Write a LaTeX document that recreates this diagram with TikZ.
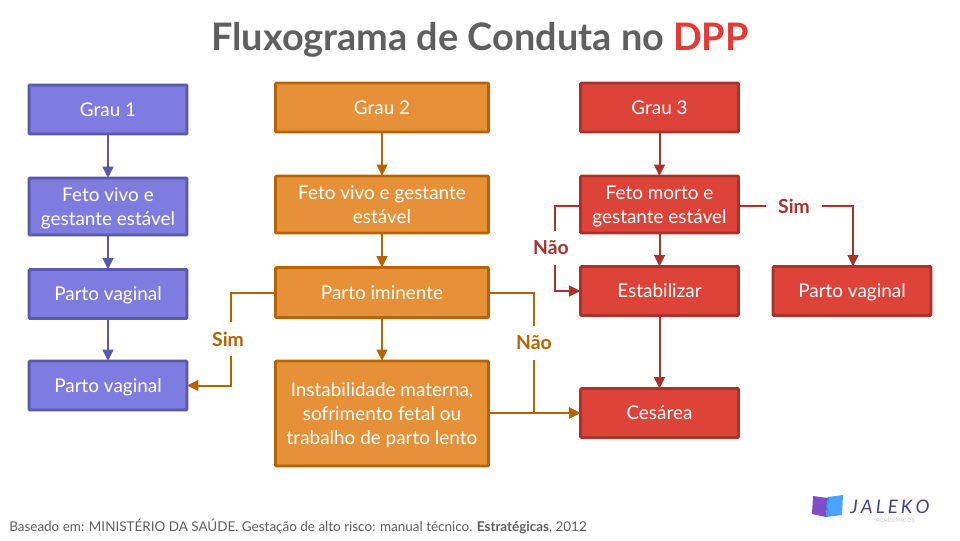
\documentclass[tikz,border=0pt]{standalone}
\usepackage{fontspec}
\setmainfont{Lato}
\usetikzlibrary{arrows.meta}
\definecolor{blueF}{HTML}{7F7CE0}\definecolor{blueD}{HTML}{5A58A8}
\definecolor{orF}{HTML}{E69038}\definecolor{orD}{HTML}{B86202}
\definecolor{reF}{HTML}{DD4338}\definecolor{reD}{HTML}{A8322C}
\definecolor{titleG}{HTML}{5F5F5F}\definecolor{titleR}{HTML}{E53935}
\newcommand{\boxtxt}[1]{\raisebox{-1.6pt}[\height][\depth]{\begin{tabular}{@{}c@{}}#1\end{tabular}}}
\tikzset{
 bx/.style={draw,line width=2.2pt,rounded corners=0.8pt,text=white,font=\fontsize{14.2pt}{18pt}\selectfont,inner sep=0pt,outer sep=0pt,anchor=north west},
 bb/.style={bx,draw=blueD,fill=blueF},
 ob/.style={bx,draw=orD,fill=orF},
 rb/.style={bx,draw=reD,fill=reF},
 ln/.style={line width=1.5pt,-{Triangle[length=8.5pt,width=8pt]}},
 lab/.style={fill=white,font=\fontsize{14.5pt}{16pt}\selectfont\bfseries,inner xsep=5pt,inner ysep=0pt,minimum height=26pt}
}
\begin{document}
\begin{tikzpicture}[x=0.75pt,y=-0.75pt]
\useasboundingbox (0,0) rectangle (960,540);
\node[font=\fontsize{28.4pt}{32pt}\selectfont\bfseries,text=titleG] (title) at (480,39.5) {Fluxograma de Conduta no \textcolor{titleR}{DPP}};
% blue
\node[bb,minimum width=118.5pt,minimum height=36.75pt] (a1) at (29,85) {\boxtxt{Grau 1}};
\node[bb,minimum width=118.5pt,minimum height=42.75pt] (a2) at (29,178) {\boxtxt{Feto vivo e\\gestante estável}};
\node[bb,minimum width=118.5pt,minimum height=36.75pt] (a3) at (29,269.5) {\boxtxt{Parto vaginal}};
\node[bb,minimum width=118.5pt,minimum height=36.75pt] (a4) at (29,361) {\boxtxt{Parto vaginal}};
% orange
\node[ob,minimum width=159.75pt,minimum height=36.75pt] (b1) at (275.5,83) {\boxtxt{Grau 2}};
\node[ob,minimum width=159.75pt,minimum height=42.75pt] (b2) at (275.5,176) {\boxtxt{Feto vivo e gestante\\estável}};
\node[ob,minimum width=159.75pt,minimum height=37.5pt] (b3) at (275.5,267.5) {\boxtxt{Parto iminente}};
\node[ob,minimum width=159.75pt,minimum height=78.75pt] (b4) at (275.5,361) {\boxtxt{Instabilidade materna,\\sofrimento fetal ou\\trabalho de parto lento}};
% red
\node[rb,minimum width=118.5pt,minimum height=36.75pt] (c1) at (580.5,83) {\boxtxt{Grau 3}};
\node[rb,minimum width=118.5pt,minimum height=42.75pt] (c2) at (580.5,176) {\boxtxt{Feto morto e\\gestante estável}};
\node[rb,minimum width=118.5pt,minimum height=36.75pt] (c3) at (580.5,266.5) {\boxtxt{Estabilizar}};
\node[rb,minimum width=118.5pt,minimum height=36.75pt] (c4) at (580.5,388.5) {\boxtxt{Cesárea}};
\node[rb,minimum width=118.5pt,minimum height=36.75pt] (c5) at (773,266.5) {\boxtxt{Parto vaginal}};
% connectors
\begin{scope}[draw=blueD,blueD]
\draw[ln] (a1)--(a2); \draw[ln] (a2)--(a3); \draw[ln] (a3)--(a4);
\end{scope}
\begin{scope}[draw=orD]
\draw[ln] (b1)--(b2); \draw[ln] (b2)--(b3); \draw[ln] (b3)--(b4);
\coordinate (sc) at (231,339);
\coordinate (nc) at (534,343);
\draw[ln,orD] (b3.west) -| (sc) |- (a4.east);
\draw[ln,orD] (b3.east) -| (nc) |- (c4.west);
\draw[ln,orD] (b4.east |- c4.west) -- (c4.west);
\node[lab,text=orD] (ls) at (228,339) {Sim};
\node[lab,text=orD] (ln1) at (534,343) {Não};
\end{scope}
\begin{scope}[draw=reD]
\draw[ln] (c1)--(c2); \draw[ln] (c2)--(c3); \draw[ln] (c3)--(c4);
\coordinate (nr) at (555,248);
\coordinate (sr) at (853,206);
\draw[ln,reD] (c2.west |- sr) -| (nr) |- (c3.west);
\draw[ln,reD] (c2.east |- sr) -| (c5.north -| sr);
\node[lab,text=reD] (ln2) at (551,248) {Não};
\node[lab,text=reD,inner xsep=9pt] (ls2) at (794,206) {Sim};
\end{scope}
% footer
\node[anchor=west,inner sep=0pt,text=titleG,font=\fontsize{10.1pt}{12pt}\selectfont] (src) at (9,526.5) {Baseado em: MINISTÉRIO DA SAÚDE. Gestação de alto risco: manual técnico. \textbf{Estratégicas}, 2012};
% logo
\fill[blue!20!cyan!60!blue!70] (828,497)--(843,495)--(842,515)--(826,517)--cycle;
\fill[violet!60!blue!70] (813,496)--(828,498)--(826,517)--(812,514)--cycle;
\draw[cyan!70!teal,line width=0.8pt] (828,497)..controls (832,502) and (824,505) ..(827,508)..controls (830,511) and (825,514)..(827,517);
\node[anchor=west,inner sep=0pt,text=titleG!70!blue,font=\fontsize{14pt}{16pt}\selectfont\itshape] (logo) at (850,507) {J\,A\,L\,E\,K\,O};
\node[anchor=west,inner sep=0pt,text=blue!10!gray!30,font=\fontsize{4.5pt}{5pt}\selectfont\bfseries] (logo2) at (875,520) {ACADÊMICOS};
\end{tikzpicture}
\end{document}
